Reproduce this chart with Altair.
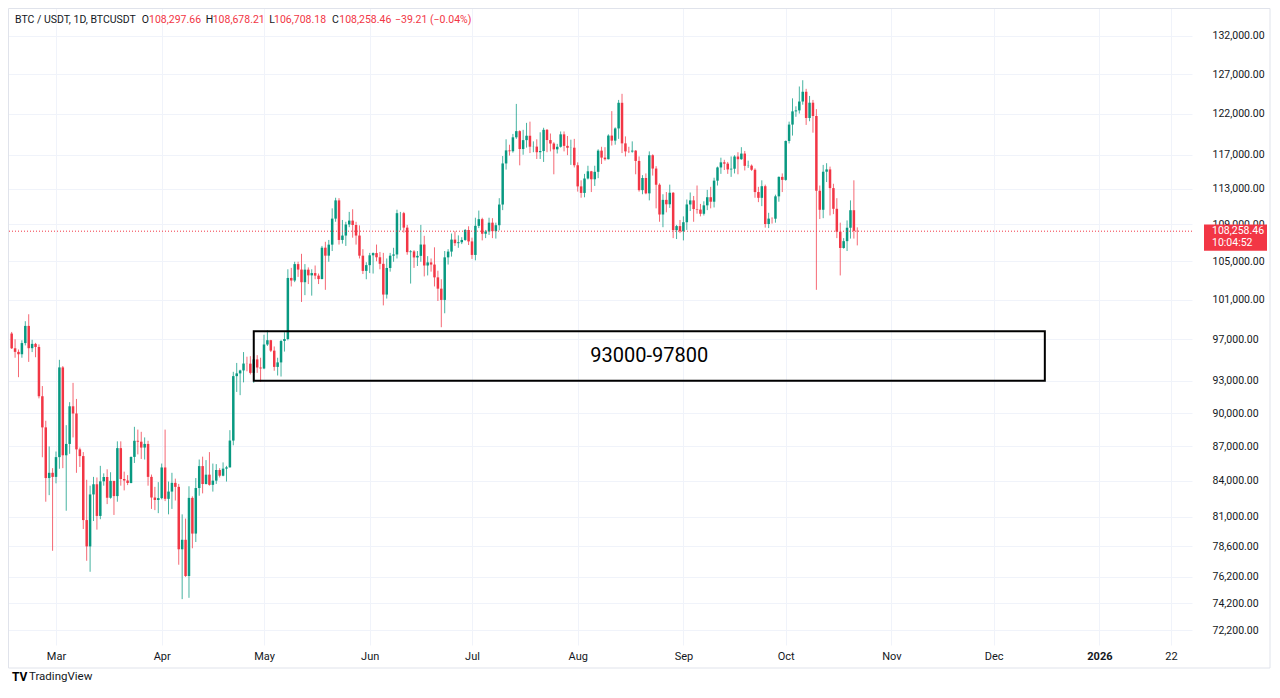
import json
import altair as alt
import pandas as pd

# ---------------- data (BTC/USDT daily) ----------------
start_date = "2025-02-16"
first_open = 97570.0

feb_close = [96120, 95770, 95540, 96630, 98330, 96130, 96550, 96250, 91550, 88700, 84250, 84700, 84350]
feb_high = [97730, 97000, 96000, 96900, 98800, 99500, 96950, 96650, 96500, 92500, 89300, 87000, 85100]
feb_low = [96050, 95200, 93340, 95200, 96400, 94800, 95750, 95250, 91350, 86050, 82250, 82800, 78250]

mar_close = [86060, 94270, 86220, 87220, 90620, 89960, 86740, 86150, 80730, 78600, 82860, 83720, 81070, 83970,
             84340, 82580, 84010, 82720, 86850, 84170, 84040, 83830, 86080, 87500, 87420, 86900, 87220, 84350,
             82600, 82390, 82550]
mar_high = [86550, 95000, 94400, 88900, 91000, 92800, 91300, 86900, 86500, 84100, 83600, 84350, 84300, 85300,
            84650, 85000, 84750, 84000, 87450, 87450, 84800, 84500, 86100, 88750, 88500, 88300, 87800, 87500,
            84550, 83500, 83900]
mar_low = [83800, 85050, 85100, 81500, 86350, 87800, 84700, 85200, 80000, 77460, 76600, 80650, 79950, 80800,
           83600, 82050, 82500, 81150, 82250, 83600, 83200, 83650, 83800, 85550, 86300, 85900, 85850, 83600,
           81650, 81550, 81300]

apr_close = [85160, 82490, 83100, 83840, 83500, 78370, 79130, 76270, 82570, 79630, 83400, 85280, 83740, 84540,
             83670, 84030, 84940, 84450, 85060, 85170, 87520, 93440, 93700, 93980, 94640, 94630, 93750, 95040,
             94260, 94170]
apr_high = [85500, 88500, 83950, 84700, 84200, 83750, 81200, 80850, 83550, 82700, 84250, 85850, 86100, 85800,
            86500, 85500, 85450, 85100, 85600, 85300, 88450, 93850, 94700, 94050, 95750, 95300, 95350, 95600,
            95450, 95200]
apr_low = [82450, 82300, 81200, 81650, 82350, 77150, 74500, 76200, 74600, 78450, 78950, 82750, 82950, 83700,
           83600, 83100, 83750, 84300, 84400, 83950, 85150, 87100, 91950, 91650, 92850, 93900, 93600, 92800,
           93750, 92900]

may_close = [96490, 96910, 95890, 94320, 94750, 96830, 97030, 103240, 102970, 104700, 104120, 102790, 104110,
             103510, 103750, 103480, 103120, 106460, 105600, 106790, 109650, 111700, 107300, 107780, 109000,
             109430, 108940, 107780, 105600, 103980, 104590]
may_high = [97450, 97900, 96950, 96300, 95200, 96950, 97700, 104150, 104300, 104950, 104950, 105800, 104700,
            104350, 104150, 104550, 103700, 106650, 107100, 107300, 110800, 112000, 111950, 109500, 109300,
            110400, 110700, 109300, 108900, 106300, 104900]
may_low = [94100, 96350, 95750, 93950, 93500, 93400, 95800, 96900, 102350, 102800, 103350, 100750, 101450,
           102600, 101400, 103100, 102600, 103100, 102000, 104950, 106100, 109300, 106800, 106900, 106650,
           108700, 107550, 106800, 105300, 103650, 103100]

jun_close = [105640, 105880, 105430, 104730, 101510, 104290, 105600, 105730, 110260, 110260, 108650, 105980,
             106060, 105410, 105580, 106800, 104550, 104880, 104650, 103300, 102120, 100960, 105420, 106040,
             107340, 106950, 107050, 107300, 108390, 107140]
jun_high = [105900, 105950, 106800, 106000, 105900, 105300, 105900, 106450, 110650, 110400, 110400, 108950,
            106200, 106200, 106100, 108950, 107750, 105550, 105300, 106500, 104000, 103100, 106100, 106300,
            108000, 108250, 107800, 107600, 108500, 108800]
jun_low = [103750, 103700, 105000, 104150, 100400, 101100, 103900, 104950, 105300, 108350, 108100, 105700,
           102650, 104300, 104500, 104950, 103400, 103500, 103900, 102350, 100850, 98200, 99600, 104650,
           105500, 106650, 106450, 106850, 107200, 106750]

jul_close = [105680, 108850, 109590, 107980, 108220, 109200, 108260, 108920, 111230, 115970, 117520, 117420,
             119090, 119840, 117680, 118750, 119280, 117960, 117970, 117300, 117440, 120000, 118760, 118340,
             117640, 117950, 119450, 118060, 117830, 117840, 115760]
jul_high = [107550, 109750, 110550, 109750, 108400, 109750, 109700, 109200, 111950, 116850, 118850, 118200,
            119500, 123200, 119950, 120000, 120850, 121000, 118600, 118850, 119700, 120250, 120100, 119550,
            118500, 118300, 119800, 119800, 119250, 118800, 118900]
jul_low = [105250, 105100, 108600, 107250, 107500, 107850, 107500, 107450, 108350, 110600, 115250, 116900,
           117250, 118900, 115750, 117000, 117850, 117200, 117300, 116500, 116500, 116150, 117300, 117400,
           114700, 117150, 117850, 117400, 116950, 115800, 115500]

aug_close = [113300, 112550, 114210, 115050, 114120, 114990, 117490, 116660, 116470, 119300, 118690, 120170,
             123340, 118360, 117400, 117380, 117490, 116270, 112870, 114270, 112500, 116940, 115370, 113490,
             110110, 111760, 111260, 112570, 108380, 108820, 108250]
aug_high = [116100, 114000, 114750, 115700, 115100, 115700, 117650, 117950, 117900, 119450, 122300, 120300,
            123700, 124470, 119200, 117950, 118600, 117550, 116800, 114600, 114800, 117400, 117050, 115650,
            113650, 112400, 112650, 113500, 112650, 108950, 109500]
aug_low = [112700, 112000, 112050, 114100, 112650, 113350, 114250, 115900, 116300, 116450, 118100, 118200,
           118900, 117200, 116800, 117200, 117250, 114700, 112700, 112400, 112400, 111700, 114550, 110800,
           109300, 108700, 110350, 110850, 107500, 107400, 108050]

sep_close = [109250, 111240, 111700, 110720, 110660, 110190, 111140, 112060, 111550, 113960, 115500, 116100,
             115950, 115270, 115350, 116790, 116470, 117140, 115690, 115710, 115230, 112650, 111990, 113320,
             109050, 109650, 109640, 112160, 114400, 114050]
sep_high = [109900, 111800, 112600, 112200, 113400, 111300, 111600, 112900, 113250, 114300, 115600, 116650,
            116400, 116150, 116800, 116950, 117300, 117900, 117450, 116300, 115850, 115400, 113250, 114000,
            113500, 110300, 109800, 112350, 114450, 114800]
sep_low = [107250, 108400, 110500, 109300, 110200, 109900, 110000, 110600, 110800, 110900, 113400, 114750,
           115200, 114750, 114400, 114800, 114700, 116400, 115150, 115450, 115100, 112000, 111500, 111050,
           108650, 108600, 109100, 109200, 111550, 112650]

oct_close = [118650, 120640, 122270, 122390, 123500, 124730, 121450, 123350, 121700, 112800, 110640, 115000,
             115270, 113100, 110750, 108200, 106430, 107170, 108640, 110590, 108297.66, 108258.46]
oct_high = [118700, 121000, 123900, 122900, 125400, 126200, 125100, 124200, 123700, 122550, 113400, 115800,
            116000, 115600, 113600, 111950, 109200, 107500, 109450, 111700, 114000, 108678.21]
oct_low = [113950, 118350, 119300, 121600, 122000, 123100, 120600, 121050, 119650, 102000, 109600, 109700,
           113800, 110000, 110150, 107500, 103500, 106350, 106100, 107450, 107450, 106708.18]

y_ticks = [72200, 74200, 76200, 78600, 81000, 84000, 87000, 90000, 93000, 97000, 101000, 105000, 109000,
           113000, 117000, 122000, 127000, 132000]
tick_dates = ["2025-03-01", "2025-04-01", "2025-05-01", "2025-06-01", "2025-07-01", "2025-08-01",
              "2025-09-01", "2025-10-01", "2025-11-01", "2025-12-01", "2026-01-01", "2026-01-22"]
tick_labels = ["Mar", "Apr", "May", "Jun", "Jul", "Aug", "Sep", "Oct", "Nov", "Dec", "2026", "22"]

zone_low, zone_high = 93000, 97800
zone_start, zone_end = "2025-04-28", "2025-12-16"
zone_label = "93000-97800"

header_parts = ["BTC / USDT, 1D, BTCUSDT", "O", "108,297.66", "H", "108,678.21", "L", "106,708.18",
                "C", "108,258.46", "\u221239.21 (\u22120.04%)"]
last_price = 108258.46
last_price_label = "108,258.46"
countdown = "10:04:52"

# ---------------- build table ----------------
close_ = feb_close + mar_close + apr_close + may_close + jun_close + jul_close + aug_close + sep_close + oct_close
high_ = feb_high + mar_high + apr_high + may_high + jun_high + jul_high + aug_high + sep_high + oct_high
low_ = feb_low + mar_low + apr_low + may_low + jun_low + jul_low + aug_low + sep_low + oct_low
open_ = [first_open] + close_[:-1]

t0 = pd.Timestamp(start_date)
def day_of(d):
    return (pd.Timestamp(d) - t0).days

df = pd.DataFrame({
    "day": list(range(len(close_))),
    "open": open_, "high": high_, "low": low_, "close": close_,
})
df["dir"] = ["up" if c >= o else "down" for o, c in zip(df["open"], df["close"])]

tick_days = [day_of(d) for d in tick_dates]

GREEN = "#089981"
RED = "#F23645"
DARK = "#131722"
GRID = "#f0f3fa"
FONT = "Roboto"

xscale = alt.Scale(domain=[-1.076, 346.16], nice=False, zero=False)
yscale = alt.Scale(type="log", domain=[71109, 135806], nice=False, zero=False)

label_expr = f"{json.dumps(tick_labels)}[indexof({json.dumps(tick_days)}, datum.value)]"
xaxis = alt.Axis(values=tick_days, labelExpr=label_expr, grid=True, gridColor=GRID, ticks=False,
                 domain=False, labelPadding=5, labelFlush=False, labelOverlap=False, labelFontSize=11,
                 labelColor=DARK, labelFont=FONT, title=None,
                 labelFontWeight={"condition": {"test": f"datum.value == {tick_days[10]}", "value": "bold"},
                                  "value": "normal"})
yaxis = alt.Axis(values=y_ticks, format=",.2f", orient="right", ticks=False, domain=False, labelPadding=20,
                 labelFontSize=10.5, labelColor=DARK, labelFont=FONT, grid=True, gridColor=GRID,
                 labelOverlap=False, labelFlush=False, title=None)

def X(f):
    return alt.X(f, type="quantitative", scale=xscale, axis=xaxis)

def Y(f):
    return alt.Y(f, type="quantitative", scale=yscale, axis=yaxis)

color = alt.Color("dir:N", scale=alt.Scale(domain=["up", "down"], range=[GREEN, RED]), legend=None)

base = alt.Chart(df)
wicks = base.mark_rule(strokeWidth=1, opacity=0.75).encode(x=X("day"), y=Y("low"), y2="high", color=color)
bodies = base.mark_rule(strokeWidth=2.5).encode(x=X("day"), y=Y("open"), y2="close", color=color)

price_df = pd.DataFrame({"price": [last_price]})
price_line = alt.Chart(price_df).mark_rule(color=RED, strokeDash=[1, 2], strokeWidth=1).encode(y=Y("price"))

zone_df = pd.DataFrame({"x1": [day_of(zone_start)], "x2": [day_of(zone_end)],
                        "lo": [zone_low], "hi": [zone_high],
                        "xm": [(day_of(zone_start) + day_of(zone_end)) / 2],
                        "ym": [(zone_low * zone_high) ** 0.5]})
zone_box = alt.Chart(zone_df).mark_rect(fillOpacity=0, stroke="black", strokeWidth=2).encode(
    x=X("x1"), x2="x2", y=Y("lo"), y2="hi")
zone_text = alt.Chart(zone_df).mark_text(text=zone_label, fontSize=20, font=FONT, color="black",
                                         baseline="middle", align="center").encode(x=X("xm"), y=Y("ym"))

one = pd.DataFrame({"a": [0]})

def txt(s, x, y, size=10.5, col=DARK, weight="normal", align="left"):
    return alt.Chart(one).mark_text(text=s, align=align, baseline="middle", fontSize=size, color=col,
                                    fontWeight=weight, font=FONT).encode(x=alt.value(x), y=alt.value(y))

header_x = [7, 133.7, 141, 197.7, 204.7, 261.3, 266, 324, 331.3, 387]
header_col = [DARK, DARK, RED, DARK, RED, DARK, RED, DARK, RED, RED]
header = [txt(s, x, 12, col=c) for s, x, c in zip(header_parts, header_x, header_col)]

label_box = alt.Chart(price_df).mark_point(
    shape="M-1,-0.21L1,-0.21L1,0.62L-1,0.62Z", size=3969, filled=True, color=RED, opacity=1, strokeWidth=0
).encode(x=alt.value(1227.5), y=Y("price"))
label_text1 = alt.Chart(price_df).mark_text(text=last_price_label, align="left", baseline="middle",
                                            fontSize=10.5, font=FONT, color="white").encode(
    x=alt.value(1204), y=Y("price"))
label_text2 = alt.Chart(price_df).mark_text(text=countdown, align="left", baseline="middle", dy=12,
                                            fontSize=10.5, font=FONT, color="white").encode(
    x=alt.value(1204), y=Y("price"))

frame = alt.Chart(one).mark_rect(fillOpacity=0, stroke="#e0e3eb", strokeWidth=1).encode(
    x=alt.value(0.5), x2=alt.value(1262), y=alt.value(0.5), y2=alt.value(660))

logo = txt("TV", 4, 669, size=12, col="black", weight="bold")
logo_text = txt("TradingView", 21, 669, size=11.5, col=DARK)

chart = alt.layer(
    wicks, bodies, price_line, zone_box, zone_text, label_box, label_text1, label_text2,
    frame, logo, logo_text, *header
).properties(
    width=1184, height=637,
    autosize=alt.AutoSizeParams(type="none"),
    padding={"left": 0, "top": 0, "right": 79, "bottom": 40},
    background="white",
).configure_view(stroke=None)

chart.save("out.html", embed_options={"renderer": "svg", "actions": False})
